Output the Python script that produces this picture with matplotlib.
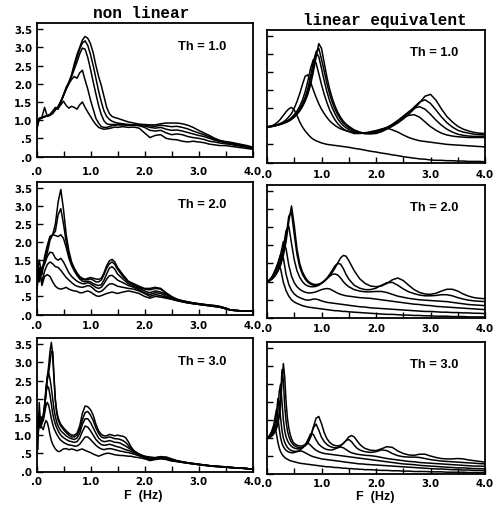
import matplotlib
matplotlib.use("Agg")
import matplotlib.pyplot as plt
from matplotlib.ticker import MultipleLocator, FuncFormatter

# ---------------- frequency grids (Hz) ----------------
freq_a = [0.0, 0.05, 0.1, 0.15, 0.2, 0.25, 0.3, 0.35, 0.4, 0.45,
          0.5, 0.55, 0.6, 0.65, 0.7, 0.75, 0.8, 0.85, 0.9, 0.95,
          1.0, 1.05, 1.1, 1.15, 1.2, 1.25, 1.3, 1.35, 1.4, 1.45,
          1.5, 1.6, 1.7, 1.8, 1.9, 2.0, 2.1, 2.2, 2.3, 2.4,
          2.5, 2.6, 2.7, 2.8, 2.9, 3.0, 3.1, 3.2, 3.3, 3.4,
          3.5, 3.6, 3.7, 3.8, 3.9, 4.0]

freq_b = [0.0, 0.025, 0.05, 0.075, 0.1, 0.125, 0.15, 0.175, 0.2, 0.225,
          0.25, 0.275, 0.3, 0.325, 0.35, 0.375, 0.4, 0.425, 0.45, 0.475, 0.5,
          0.55, 0.6, 0.65, 0.7, 0.75, 0.8, 0.85, 0.9, 0.95, 1.0,
          1.05, 1.1, 1.15, 1.2, 1.25, 1.3, 1.35, 1.4, 1.45, 1.5,
          1.55, 1.6, 1.65, 1.7, 1.75, 1.8,
          1.9, 2.0, 2.1, 2.2, 2.3, 2.4, 2.5, 2.6, 2.7, 2.8, 2.9,
          3.0, 3.1, 3.2, 3.3, 3.4, 3.5, 3.6, 3.7, 3.8, 3.9, 4.0]

# ---------------- non linear, Th = 1.0 ----------------
nl1_a = [0.80, 1.02, 1.06, 1.10, 1.12, 1.15, 1.22, 1.32, 1.36, 1.52,
         1.70, 1.90, 2.05, 2.25, 2.55, 2.80, 3.00, 3.20, 3.30, 3.25,
         3.10, 2.85, 2.50, 2.20, 1.95, 1.65, 1.35, 1.18, 1.10, 1.07,
         1.05, 1.00, 0.95, 0.92, 0.89, 0.88, 0.87, 0.87, 0.90, 0.92,
         0.92, 0.92, 0.90, 0.86, 0.80, 0.72, 0.65, 0.58, 0.50, 0.44,
         0.41, 0.39, 0.36, 0.33, 0.30, 0.26]
nl1_b = [0.90, 1.05, 1.08, 1.35, 1.10, 1.13, 1.20, 1.30, 1.34, 1.50,
         1.68, 1.88, 2.03, 2.22, 2.48, 2.72, 2.95, 3.12, 3.18, 3.05,
         2.80, 2.50, 2.15, 1.80, 1.50, 1.25, 1.10, 1.02, 0.97, 0.94,
         0.92, 0.90, 0.88, 0.87, 0.86, 0.86, 0.84, 0.83, 0.86, 0.84,
         0.82, 0.83, 0.80, 0.76, 0.70, 0.65, 0.60, 0.54, 0.48, 0.43,
         0.40, 0.37, 0.34, 0.31, 0.28, 0.25]
nl1_c = [0.70, 1.03, 1.07, 1.09, 1.12, 1.16, 1.25, 1.35, 1.30, 1.48,
         1.68, 1.86, 2.02, 2.20, 2.40, 2.60, 2.82, 2.98, 2.95, 2.72,
         2.40, 2.05, 1.72, 1.40, 1.15, 0.98, 0.90, 0.88, 0.88, 0.88,
         0.88, 0.87, 0.86, 0.86, 0.85, 0.84, 0.80, 0.78, 0.80, 0.75,
         0.72, 0.73, 0.70, 0.66, 0.62, 0.58, 0.55, 0.50, 0.45, 0.41,
         0.38, 0.36, 0.33, 0.30, 0.27, 0.24]
nl1_d = [0.85, 1.04, 1.06, 1.10, 1.11, 1.14, 1.18, 1.28, 1.38, 1.50,
         1.68, 1.85, 2.00, 2.12, 2.20, 2.15, 2.30, 2.37, 2.10, 1.85,
         1.55, 1.30, 1.05, 0.92, 0.82, 0.80, 0.80, 0.82, 0.85, 0.86,
         0.87, 0.87, 0.86, 0.87, 0.85, 0.80, 0.72, 0.70, 0.72, 0.65,
         0.60, 0.62, 0.60, 0.55, 0.52, 0.50, 0.47, 0.42, 0.40, 0.37,
         0.35, 0.33, 0.30, 0.28, 0.25, 0.22]
nl1_e = [0.75, 1.05, 1.07, 1.10, 1.12, 1.15, 1.22, 1.30, 1.33, 1.42,
         1.52, 1.40, 1.33, 1.38, 1.35, 1.30, 1.42, 1.50, 1.35, 1.22,
         1.10, 0.98, 0.88, 0.80, 0.77, 0.75, 0.76, 0.77, 0.79, 0.81,
         0.80, 0.82, 0.80, 0.81, 0.78, 0.65, 0.52, 0.58, 0.60, 0.50,
         0.47, 0.46, 0.42, 0.40, 0.42, 0.40, 0.38, 0.34, 0.32, 0.30,
         0.30, 0.28, 0.26, 0.24, 0.22, 0.20]

# ---------------- linear equivalent, Th = 1.0 ----------------
le1_a = [0.98, 1.00, 1.02, 1.06, 1.12, 1.20, 1.30, 1.40, 1.48, 1.52,
         1.45, 1.30, 1.12, 0.98, 0.87, 0.78, 0.70, 0.64, 0.60, 0.57,
         0.54, 0.52, 0.50, 0.49, 0.48, 0.47, 0.46, 0.45, 0.44, 0.43,
         0.42, 0.39, 0.37, 0.34, 0.31, 0.29, 0.26, 0.24, 0.21, 0.19,
         0.16, 0.14, 0.12, 0.10, 0.09, 0.07, 0.06, 0.06, 0.05, 0.05,
         0.04, 0.04, 0.03, 0.03, 0.03, 0.02]
le1_b = [0.98, 0.99, 1.00, 1.03, 1.05, 1.08, 1.12, 1.18, 1.26, 1.35,
         1.50, 1.68, 1.90, 2.15, 2.38, 2.42, 2.22, 2.00, 1.80, 1.62,
         1.47, 1.35, 1.24, 1.15, 1.08, 1.02, 0.97, 0.93, 0.90, 0.88,
         0.86, 0.83, 0.81, 0.81, 0.83, 0.87, 0.92, 0.95, 0.90, 0.84,
         0.76, 0.69, 0.64, 0.60, 0.58, 0.56, 0.54, 0.52, 0.50, 0.49,
         0.48, 0.47, 0.46, 0.45, 0.44, 0.43]
le1_c = [0.98, 0.99, 1.00, 1.02, 1.04, 1.07, 1.10, 1.14, 1.18, 1.24,
         1.32, 1.42, 1.55, 1.72, 1.95, 2.25, 2.60, 2.84, 2.75, 2.45,
         2.15, 1.88, 1.65, 1.45, 1.30, 1.17, 1.07, 0.99, 0.93, 0.88,
         0.85, 0.80, 0.80, 0.82, 0.85, 0.88, 0.92, 0.97, 1.05, 1.15,
         1.24, 1.30, 1.32, 1.25, 1.12, 0.99, 0.89, 0.81, 0.76, 0.73,
         0.71, 0.70, 0.69, 0.69, 0.69, 0.69]
le1_d = [0.98, 0.99, 1.00, 1.02, 1.04, 1.06, 1.09, 1.12, 1.16, 1.21,
         1.28, 1.37, 1.48, 1.62, 1.80, 2.05, 2.38, 2.78, 3.03, 2.92,
         2.60, 2.25, 1.95, 1.70, 1.50, 1.34, 1.20, 1.10, 1.02, 0.96,
         0.91, 0.85, 0.81, 0.80, 0.81, 0.84, 0.89, 0.96, 1.05, 1.16,
         1.28, 1.40, 1.50, 1.54, 1.47, 1.33, 1.17, 1.03, 0.92, 0.84,
         0.78, 0.75, 0.73, 0.72, 0.72, 0.72]
le1_e = [0.98, 0.99, 1.00, 1.02, 1.04, 1.06, 1.08, 1.11, 1.15, 1.20,
         1.26, 1.34, 1.44, 1.57, 1.73, 1.95, 2.25, 2.62, 3.05, 3.15,
         2.85, 2.52, 2.17, 1.88, 1.65, 1.46, 1.31, 1.19, 1.09, 1.02,
         0.96, 0.88, 0.83, 0.80, 0.80, 0.82, 0.87, 0.94, 1.02, 1.12,
         1.24, 1.38, 1.53, 1.67, 1.73, 1.63, 1.45, 1.26, 1.10, 0.98,
         0.89, 0.84, 0.81, 0.78, 0.77, 0.76]
le1_f = [0.98, 0.99, 1.00, 1.01, 1.03, 1.05, 1.08, 1.11, 1.14, 1.19,
         1.25, 1.33, 1.42, 1.54, 1.69, 1.88, 2.15, 2.50, 2.90, 3.28,
         3.15, 2.75, 2.35, 2.02, 1.76, 1.55, 1.38, 1.25, 1.14, 1.06,
         1.00, 0.90, 0.84, 0.80, 0.79, 0.80, 0.85, 0.92, 1.00, 1.09,
         1.20, 1.33, 1.48, 1.65, 1.83, 1.88, 1.72, 1.48, 1.27, 1.12,
         1.00, 0.92, 0.87, 0.83, 0.81, 0.80]

# ---------------- non linear, Th = 2.0 ----------------
nl2_a = [1.50, 1.00, 1.30, 1.40, 1.70, 2.05, 2.20, 2.50, 3.10, 3.45,
         2.90, 2.20, 1.75, 1.45, 1.28, 1.15, 1.05, 1.00, 0.97, 1.00,
         1.02, 1.00, 0.98, 0.97, 1.00, 1.15, 1.35, 1.48, 1.52, 1.45,
         1.30, 1.10, 0.92, 0.85, 0.78, 0.72, 0.72, 0.75, 0.72, 0.60,
         0.50, 0.42, 0.38, 0.35, 0.32, 0.30, 0.28, 0.26, 0.25, 0.22,
         0.18, 0.12, 0.11, 0.10, 0.10, 0.10]
nl2_b = [1.20, 1.10, 1.20, 1.50, 1.85, 2.15, 2.20, 2.30, 2.75, 2.92,
         2.50, 2.00, 1.65, 1.40, 1.25, 1.12, 1.02, 0.97, 0.95, 0.97,
         0.98, 0.95, 0.90, 0.90, 0.95, 1.10, 1.28, 1.40, 1.45, 1.38,
         1.25, 1.05, 0.90, 0.82, 0.75, 0.70, 0.68, 0.72, 0.70, 0.58,
         0.48, 0.42, 0.38, 0.35, 0.32, 0.30, 0.28, 0.26, 0.24, 0.22,
         0.18, 0.12, 0.11, 0.10, 0.10, 0.10]
nl2_c = [1.00, 1.50, 1.10, 1.60, 1.90, 2.15, 2.20, 2.18, 2.15, 2.20,
         2.10, 1.85, 1.55, 1.35, 1.20, 1.08, 0.98, 0.92, 0.90, 0.92,
         0.90, 0.85, 0.82, 0.80, 0.82, 0.95, 1.12, 1.28, 1.32, 1.25,
         1.12, 0.98, 0.85, 0.78, 0.72, 0.65, 0.60, 0.65, 0.62, 0.55,
         0.47, 0.42, 0.37, 0.34, 0.31, 0.29, 0.27, 0.25, 0.24, 0.21,
         0.17, 0.12, 0.11, 0.10, 0.10, 0.10]
nl2_d = [1.30, 0.90, 1.20, 1.40, 1.60, 1.72, 1.70, 1.55, 1.50, 1.55,
         1.45, 1.30, 1.15, 1.05, 0.98, 0.92, 0.88, 0.85, 0.85, 0.88,
         0.85, 0.80, 0.75, 0.72, 0.75, 0.85, 0.98, 1.07, 1.08, 1.02,
         0.95, 0.88, 0.80, 0.75, 0.68, 0.60, 0.55, 0.60, 0.58, 0.50,
         0.45, 0.40, 0.36, 0.33, 0.30, 0.28, 0.26, 0.25, 0.23, 0.20,
         0.16, 0.12, 0.11, 0.10, 0.10, 0.10]
nl2_e = [0.60, 1.20, 0.90, 1.20, 1.38, 1.45, 1.40, 1.32, 1.30, 1.22,
         1.12, 1.02, 0.95, 0.88, 0.82, 0.78, 0.76, 0.75, 0.77, 0.80,
         0.78, 0.72, 0.65, 0.62, 0.64, 0.70, 0.78, 0.84, 0.85, 0.82,
         0.78, 0.75, 0.72, 0.70, 0.65, 0.58, 0.50, 0.55, 0.52, 0.47,
         0.43, 0.39, 0.35, 0.32, 0.30, 0.28, 0.26, 0.24, 0.22, 0.20,
         0.16, 0.12, 0.11, 0.10, 0.10, 0.10]
nl2_f = [0.90, 1.30, 0.80, 1.05, 1.10, 1.05, 0.90, 0.78, 0.72, 0.70,
         0.72, 0.75, 0.70, 0.67, 0.65, 0.64, 0.60, 0.60, 0.63, 0.65,
         0.62, 0.57, 0.52, 0.50, 0.52, 0.55, 0.58, 0.60, 0.62, 0.60,
         0.58, 0.62, 0.65, 0.62, 0.58, 0.50, 0.45, 0.50, 0.48, 0.45,
         0.42, 0.38, 0.35, 0.32, 0.30, 0.28, 0.26, 0.24, 0.22, 0.20,
         0.16, 0.12, 0.11, 0.10, 0.10, 0.10]

# ---------------- linear equivalent, Th = 2.0 ----------------
le2_a = [1.00, 1.05, 1.15, 1.32, 1.48, 1.35, 0.98, 0.75, 0.60, 0.50,
         0.44, 0.40, 0.37, 0.34, 0.32, 0.30, 0.29, 0.28, 0.27, 0.26,
         0.25, 0.24, 0.23, 0.22, 0.21, 0.20, 0.20, 0.19, 0.18, 0.18,
         0.17, 0.16, 0.15, 0.14, 0.13, 0.12, 0.11, 0.10, 0.10, 0.09,
         0.08, 0.08, 0.07, 0.07, 0.06, 0.06, 0.05, 0.05, 0.05, 0.04,
         0.04, 0.04, 0.03, 0.03, 0.03, 0.03]
le2_b = [1.00, 1.05, 1.15, 1.30, 1.52, 1.75, 1.65, 1.20, 0.92, 0.76,
         0.66, 0.60, 0.56, 0.53, 0.50, 0.49, 0.50, 0.52, 0.52, 0.50,
         0.47, 0.45, 0.43, 0.42, 0.41, 0.40, 0.39, 0.38, 0.37, 0.36,
         0.35, 0.33, 0.31, 0.30, 0.28, 0.27, 0.26, 0.25, 0.24, 0.23,
         0.22, 0.21, 0.20, 0.19, 0.18, 0.18, 0.17, 0.16, 0.16, 0.15,
         0.15, 0.14, 0.14, 0.13, 0.13, 0.12]
le2_c = [1.00, 1.04, 1.12, 1.25, 1.45, 1.75, 2.10, 1.90, 1.45, 1.15,
         0.97, 0.86, 0.79, 0.74, 0.71, 0.69, 0.69, 0.70, 0.72, 0.75,
         0.78, 0.80, 0.81, 0.80, 0.76, 0.72, 0.68, 0.65, 0.63, 0.61,
         0.60, 0.58, 0.56, 0.55, 0.54, 0.52, 0.50, 0.48, 0.46, 0.44,
         0.42, 0.40, 0.38, 0.37, 0.35, 0.34, 0.32, 0.31, 0.30, 0.29,
         0.28, 0.27, 0.26, 0.25, 0.24, 0.23]
le2_d = [1.00, 1.03, 1.10, 1.20, 1.35, 1.60, 1.95, 2.40, 2.52, 2.05,
         1.60, 1.30, 1.12, 1.00, 0.92, 0.88, 0.86, 0.86, 0.87, 0.90,
         0.95, 1.01, 1.08, 1.15, 1.20, 1.21, 1.18, 1.10, 1.00, 0.92,
         0.86, 0.78, 0.74, 0.72, 0.72, 0.73, 0.73, 0.70, 0.65, 0.60,
         0.57, 0.54, 0.52, 0.50, 0.49, 0.48, 0.47, 0.46, 0.45, 0.43,
         0.41, 0.39, 0.37, 0.36, 0.35, 0.34]
le2_e = [1.00, 1.03, 1.08, 1.17, 1.30, 1.50, 1.80, 2.25, 2.80, 2.90,
         2.30, 1.75, 1.40, 1.20, 1.07, 0.98, 0.93, 0.90, 0.90, 0.92,
         0.96, 1.02, 1.10, 1.20, 1.32, 1.44, 1.50, 1.48, 1.36, 1.20,
         1.07, 0.90, 0.82, 0.78, 0.78, 0.82, 0.90, 0.97, 0.98, 0.90,
         0.80, 0.72, 0.67, 0.63, 0.61, 0.61, 0.62, 0.64, 0.64, 0.61,
         0.56, 0.52, 0.49, 0.47, 0.46, 0.45]
le2_f = [1.00, 1.03, 1.08, 1.16, 1.28, 1.45, 1.72, 2.10, 2.65, 3.08,
         2.55, 1.90, 1.50, 1.27, 1.12, 1.02, 0.96, 0.93, 0.92, 0.93,
         0.96, 1.01, 1.08, 1.16, 1.26, 1.38, 1.52, 1.65, 1.72, 1.70,
         1.58, 1.30, 1.08, 0.95, 0.88, 0.86, 0.88, 0.95, 1.05, 1.10,
         1.03, 0.90, 0.78, 0.70, 0.66, 0.65, 0.68, 0.74, 0.79, 0.79,
         0.74, 0.66, 0.60, 0.56, 0.54, 0.53]

# ---------------- non linear, Th = 3.0 ----------------
nl3_a = [1.40, 0.60, 1.90, 1.30, 1.50, 1.45, 1.70, 2.20, 2.60, 2.90, 3.30,
         3.55, 3.20, 2.50, 1.95, 1.65, 1.48, 1.38, 1.30, 1.25, 1.20,
         1.12, 1.05, 1.00, 1.00, 1.05, 1.25, 1.60, 1.80, 1.78, 1.70,
         1.55, 1.30, 1.12, 1.02, 0.98, 0.98, 1.02, 1.00, 0.98, 1.00,
         0.98, 0.97, 0.93, 0.82, 0.68, 0.58,
         0.48, 0.42, 0.40, 0.38, 0.40, 0.40, 0.35, 0.30, 0.27, 0.24, 0.22,
         0.20, 0.18, 0.16, 0.15, 0.14, 0.13, 0.11, 0.10, 0.09, 0.08, 0.06]
nl3_b = [1.20, 1.50, 1.60, 1.20, 1.45, 1.50, 1.75, 2.15, 2.50, 2.70, 3.00,
         3.30, 3.30, 2.60, 1.95, 1.60, 1.42, 1.32, 1.25, 1.20, 1.15,
         1.07, 1.00, 0.95, 0.95, 1.00, 1.15, 1.42, 1.62, 1.65, 1.55,
         1.40, 1.20, 1.05, 0.95, 0.92, 0.93, 0.95, 0.93, 0.90, 0.90,
         0.88, 0.85, 0.80, 0.72, 0.63, 0.56,
         0.47, 0.42, 0.36, 0.38, 0.41, 0.38, 0.33, 0.29, 0.26, 0.24, 0.22,
         0.20, 0.18, 0.16, 0.15, 0.14, 0.12, 0.11, 0.10, 0.09, 0.08, 0.06]
nl3_c = [1.00, 1.30, 1.50, 1.35, 1.40, 1.55, 1.85, 2.30, 2.60, 2.70, 2.55,
         2.30, 2.00, 1.70, 1.50, 1.35, 1.25, 1.18, 1.12, 1.08, 1.05,
         0.98, 0.93, 0.90, 0.88, 0.92, 1.05, 1.30, 1.45, 1.45, 1.35,
         1.20, 1.05, 0.92, 0.85, 0.82, 0.83, 0.85, 0.83, 0.80, 0.80,
         0.78, 0.74, 0.70, 0.65, 0.60, 0.55,
         0.47, 0.40, 0.35, 0.37, 0.38, 0.36, 0.32, 0.29, 0.26, 0.24, 0.22,
         0.20, 0.18, 0.16, 0.15, 0.13, 0.12, 0.11, 0.10, 0.09, 0.08, 0.06]
nl3_d = [1.30, 1.40, 1.20, 1.50, 1.30, 1.50, 1.80, 2.15, 2.35, 2.30, 2.10,
         1.85, 1.60, 1.42, 1.30, 1.20, 1.12, 1.05, 1.00, 0.96, 0.93,
         0.88, 0.84, 0.82, 0.80, 0.82, 0.92, 1.10, 1.25, 1.22, 1.12,
         1.00, 0.88, 0.80, 0.74, 0.72, 0.73, 0.75, 0.73, 0.70, 0.68,
         0.66, 0.63, 0.60, 0.58, 0.55, 0.52,
         0.45, 0.40, 0.33, 0.36, 0.37, 0.35, 0.31, 0.28, 0.26, 0.23, 0.21,
         0.19, 0.18, 0.16, 0.14, 0.13, 0.12, 0.11, 0.10, 0.09, 0.08, 0.06]
nl3_e = [0.50, 1.20, 1.40, 1.30, 1.35, 1.40, 1.60, 1.80, 1.90, 1.82, 1.65,
         1.45, 1.30, 1.18, 1.10, 1.02, 0.96, 0.90, 0.86, 0.83, 0.80,
         0.76, 0.73, 0.72, 0.70, 0.70, 0.75, 0.85, 0.95, 0.95, 0.88,
         0.80, 0.72, 0.66, 0.62, 0.60, 0.62, 0.63, 0.62, 0.60, 0.58,
         0.56, 0.55, 0.53, 0.52, 0.50, 0.48,
         0.43, 0.38, 0.32, 0.35, 0.36, 0.34, 0.30, 0.28, 0.25, 0.23, 0.21,
         0.19, 0.17, 0.16, 0.14, 0.13, 0.12, 0.11, 0.10, 0.09, 0.08, 0.06]
nl3_f = [1.50, 1.00, 1.30, 1.35, 1.20, 1.15, 1.30, 1.40, 1.35, 1.20, 1.00,
         0.85, 0.75, 0.68, 0.62, 0.58, 0.55, 0.55, 0.57, 0.60, 0.62,
         0.63, 0.60, 0.62, 0.60, 0.57, 0.60, 0.62, 0.58, 0.55, 0.52,
         0.48, 0.45, 0.42, 0.45, 0.48, 0.50, 0.50, 0.48, 0.46, 0.45,
         0.44, 0.44, 0.43, 0.42, 0.42, 0.40,
         0.38, 0.35, 0.30, 0.33, 0.35, 0.33, 0.29, 0.27, 0.25, 0.23, 0.21,
         0.19, 0.17, 0.15, 0.14, 0.13, 0.12, 0.11, 0.10, 0.09, 0.08, 0.06]

# ---------------- linear equivalent, Th = 3.0 ----------------
le3_a = [1.00, 1.03, 1.08, 1.15, 1.25, 1.33, 1.30, 1.10, 0.88, 0.72, 0.62,
         0.55, 0.50, 0.46, 0.43, 0.41, 0.39, 0.37, 0.36, 0.35, 0.34,
         0.32, 0.30, 0.29, 0.28, 0.27, 0.26, 0.25, 0.24, 0.23, 0.22,
         0.21, 0.20, 0.20, 0.19, 0.18, 0.18, 0.17, 0.16, 0.16, 0.15,
         0.15, 0.14, 0.14, 0.13, 0.13, 0.12,
         0.12, 0.11, 0.10, 0.10, 0.09, 0.09, 0.08, 0.08, 0.07, 0.07, 0.07,
         0.06, 0.06, 0.06, 0.05, 0.05, 0.05, 0.05, 0.04, 0.04, 0.04, 0.04]
le3_b = [1.00, 1.02, 1.06, 1.12, 1.22, 1.38, 1.60, 1.80, 1.60, 1.25, 1.00,
         0.85, 0.76, 0.70, 0.66, 0.63, 0.61, 0.60, 0.59, 0.59, 0.60,
         0.62, 0.64, 0.63, 0.59, 0.55, 0.51, 0.48, 0.46, 0.44, 0.42,
         0.41, 0.40, 0.39, 0.38, 0.37, 0.36, 0.35, 0.34, 0.33, 0.32,
         0.31, 0.30, 0.29, 0.28, 0.28, 0.27,
         0.26, 0.25, 0.24, 0.23, 0.22, 0.21, 0.20, 0.19, 0.18, 0.17, 0.16,
         0.15, 0.14, 0.14, 0.13, 0.12, 0.12, 0.11, 0.11, 0.10, 0.10, 0.09]
le3_c = [1.00, 1.01, 1.04, 1.08, 1.14, 1.25, 1.42, 1.70, 2.10, 2.00, 1.55,
         1.20, 1.00, 0.88, 0.80, 0.74, 0.70, 0.67, 0.65, 0.64, 0.63,
         0.63, 0.66, 0.72, 0.82, 0.86, 0.80, 0.72, 0.66, 0.62, 0.59,
         0.57, 0.56, 0.55, 0.54, 0.53, 0.52, 0.51, 0.50, 0.49, 0.48,
         0.47, 0.46, 0.45, 0.44, 0.43, 0.42,
         0.40, 0.38, 0.36, 0.34, 0.32, 0.30, 0.28, 0.27, 0.26, 0.24, 0.23,
         0.22, 0.21, 0.20, 0.19, 0.18, 0.17, 0.17, 0.16, 0.15, 0.15, 0.14]
le3_d = [1.00, 1.01, 1.03, 1.06, 1.10, 1.17, 1.27, 1.45, 1.75, 2.30, 2.50,
         2.00, 1.50, 1.20, 1.03, 0.93, 0.86, 0.81, 0.77, 0.74, 0.72,
         0.70, 0.70, 0.73, 0.80, 0.95, 1.12, 1.10, 0.95, 0.83, 0.76,
         0.71, 0.68, 0.67, 0.67, 0.70, 0.73, 0.75, 0.73, 0.68, 0.63,
         0.59, 0.57, 0.55, 0.54, 0.53, 0.52,
         0.51, 0.49, 0.46, 0.43, 0.41, 0.39, 0.37, 0.35, 0.34, 0.32, 0.31,
         0.30, 0.29, 0.28, 0.27, 0.26, 0.25, 0.24, 0.23, 0.22, 0.22, 0.21]
le3_e = [1.00, 1.00, 1.02, 1.05, 1.08, 1.13, 1.20, 1.30, 1.45, 1.70, 2.15,
         2.90, 2.60, 1.90, 1.45, 1.20, 1.05, 0.95, 0.88, 0.83, 0.79,
         0.75, 0.73, 0.74, 0.78, 0.86, 1.02, 1.28, 1.39, 1.22, 1.02,
         0.90, 0.82, 0.77, 0.74, 0.73, 0.74, 0.78, 0.85, 0.93, 0.96,
         0.90, 0.80, 0.72, 0.67, 0.64, 0.62,
         0.60, 0.62, 0.67, 0.65, 0.57, 0.51, 0.48, 0.47, 0.47, 0.46, 0.43,
         0.40, 0.38, 0.36, 0.35, 0.34, 0.33, 0.32, 0.31, 0.30, 0.29, 0.28]
le3_f = [1.00, 1.00, 1.02, 1.04, 1.07, 1.12, 1.18, 1.27, 1.40, 1.60, 1.95,
         2.55, 3.07, 2.70, 2.00, 1.55, 1.28, 1.10, 0.98, 0.90, 0.85,
         0.80, 0.78, 0.78, 0.82, 0.90, 1.05, 1.30, 1.55, 1.60, 1.40,
         1.15, 0.98, 0.88, 0.82, 0.79, 0.78, 0.80, 0.85, 0.93, 1.03,
         1.07, 1.03, 0.93, 0.83, 0.76, 0.71,
         0.66, 0.65, 0.70, 0.76, 0.74, 0.64, 0.57, 0.53, 0.52, 0.55, 0.55,
         0.50, 0.46, 0.43, 0.42, 0.42, 0.43, 0.42, 0.39, 0.37, 0.35, 0.33]

x_ticklabels = [".0", "1.0", "2.0", "3.0", "4.0"]
y_ticklabels = [".0", ".5", "1.0", "1.5", "2.0", "2.5", "3.0", "3.5"]
th_labels = ["Th = 1.0", "Th = 2.0", "Th = 3.0"]

# ---------------- figure ----------------
W, H = 501, 510
fig = plt.figure(figsize=(W / 100, H / 100), dpi=100)


def box(x0, y0, x1, y1):
    return [x0 / W, 1 - y1 / H, (x1 - x0) / W, (y1 - y0) / H]


panels = [
    (box(36.5, 24, 252.5, 157.5), freq_a, [nl1_a, nl1_b, nl1_c, nl1_d, nl1_e], th_labels[0], True, 6.5),
    (box(267, 30.5, 485, 163.5), freq_a, [le1_a, le1_b, le1_c, le1_d, le1_e, le1_f], th_labels[0], False, 4.5),
    (box(36.5, 182.5, 252.5, 315.5), freq_a, [nl2_a, nl2_b, nl2_c, nl2_d, nl2_e, nl2_f], th_labels[1], True, 4.0),
    (box(267, 185.5, 485, 319), freq_a, [le2_a, le2_b, le2_c, le2_d, le2_e, le2_f], th_labels[1], False, 3.5),
    (box(36.5, 339, 252.5, 472.5), freq_b, [nl3_a, nl3_b, nl3_c, nl3_d, nl3_e, nl3_f], th_labels[2], True, 3.0),
    (box(267, 343, 485, 475), freq_b, [le3_a, le3_b, le3_c, le3_d, le3_e, le3_f], th_labels[2], False, 3.0),
]


def xfmt(v, pos):
    if abs(v - round(v)) < 1e-6:
        return x_ticklabels[int(round(v))]
    return ""


def yfmt(v, pos):
    k = int(round(v / 0.5))
    if 0 <= k < len(y_ticklabels):
        return y_ticklabels[k]
    return ""


for rect, fr, curves, th, show_y, xpad in panels:
    ax = fig.add_axes(rect)
    for c in curves:
        assert len(c) == len(fr)
        ax.plot(fr, c, color="black", lw=1.1, solid_joinstyle="round")
    ax.set_xlim(0, 4)
    ax.set_ylim(0, 3.67)
    ax.xaxis.set_major_locator(MultipleLocator(0.5))
    ax.yaxis.set_major_locator(MultipleLocator(0.5))
    ax.xaxis.set_major_formatter(FuncFormatter(xfmt))
    if show_y:
        ax.yaxis.set_major_formatter(FuncFormatter(yfmt))
    else:
        ax.yaxis.set_major_formatter(FuncFormatter(lambda v, p: ""))
    ax.tick_params(direction="in", length=4, width=1.0, top=False, right=False)
    ax.tick_params(axis="x", pad=xpad)
    ax.tick_params(axis="y", pad=3)
    for lab in ax.get_xticklabels() + ax.get_yticklabels():
        lab.set_fontsize(7.4)
        lab.set_fontweight("bold")
    for sp in ax.spines.values():
        sp.set_linewidth(1.3)
    ax.text(2.62, 3.05, th, fontsize=9.3, fontweight="bold", ha="left", va="center",
            family="Liberation Sans")

fig.text(141.5 / W, 1 - 14 / H, "non linear", ha="center", va="center",
         family="Liberation Mono", fontsize=11.5, fontweight="bold")
fig.text(385 / W, 1 - 20 / H, "linear equivalent", ha="center", va="center",
         family="Liberation Mono", fontsize=11.5, fontweight="bold")
fig.text(143 / W, 1 - 496 / H, "F  (Hz)", ha="center", va="center",
         fontsize=9, fontweight="bold", family="Liberation Sans")
fig.text(375 / W, 1 - 497 / H, "F  (Hz)", ha="center", va="center",
         fontsize=9, fontweight="bold", family="Liberation Sans")

fig.savefig("out.png", dpi=100, facecolor="white")
